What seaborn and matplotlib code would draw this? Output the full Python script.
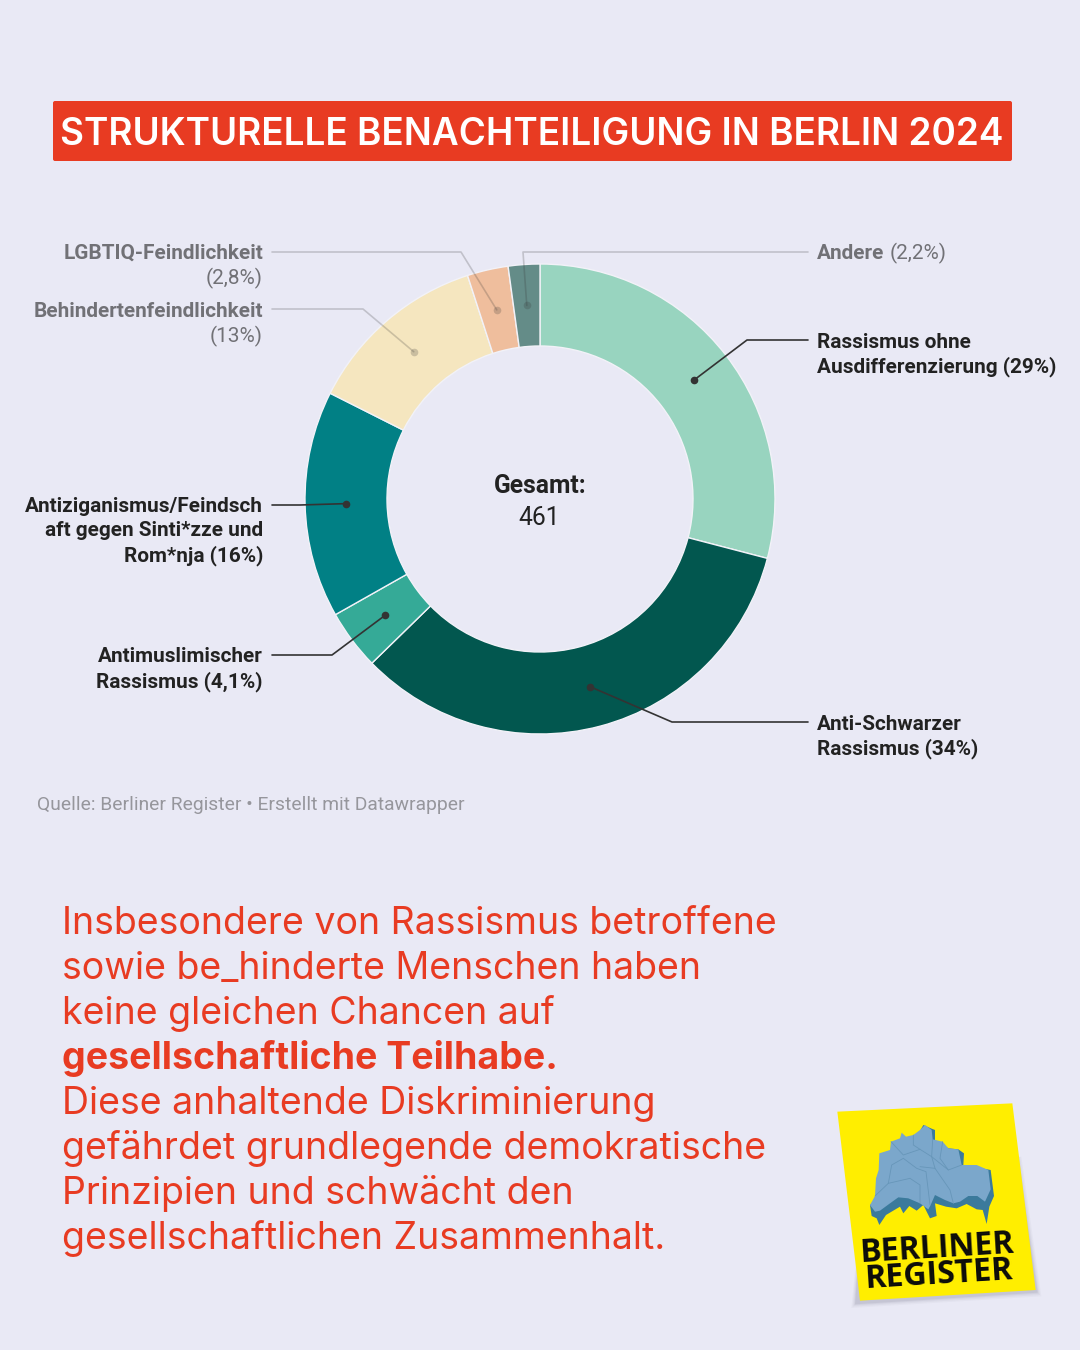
import numpy as np
import matplotlib.pyplot as plt
from matplotlib.patches import Polygon, FancyBboxPatch
import seaborn as sns

# counts per category, clockwise from 12 o'clock (percentages in labels sum to 461)
categories = ['Rassismus ohne Ausdifferenzierung', 'Anti-Schwarzer Rassismus', 'Antimuslimischer Rassismus',
              'Antiziganismus', 'Behindertenfeindlichkeit', 'LGBTIQ-Feindlichkeit', 'Andere']
counts = [134, 155, 19, 72, 58, 13, 10]
colors = ['#98D4BF', '#02574F', '#35AA97', '#018085', '#F5E6BF', '#EFBE9D', '#648C88']
title = 'STRUKTURELLE BENACHTEILIGUNG IN BERLIN 2024'
source = 'Quelle: Berliner Register • Erstellt mit Datawrapper'
body_lines = ['Insbesondere von Rassismus betroffene', 'sowie be_hinderte Menschen haben',
              'keine gleichen Chancen auf', 'gesellschaftliche Teilhabe.',
              'Diese anhaltende Diskriminierung', 'gefährdet grundlegende demokratische',
              'Prinzipien und schwächt den', 'gesellschaftlichen Zusammenhalt.']

BG = '#E9E9F5'
RED = '#E83B22'
DARK = '#222222'
GREY = '#717176'
LABEL_FONT = 'Roboto'
BODY_FONT = 'Inter'

sns.set_theme(style='white')
plt.rcParams['font.family'] = [LABEL_FONT, 'DejaVu Sans']

fig = plt.figure(figsize=(10.8, 13.5), dpi=100, facecolor=BG)
ax = fig.add_axes([0, 0, 1, 1])
ax.set_xlim(0, 1080)
ax.set_ylim(0, 1350)
ax.axis('off')


def Y(py):
    # pixels from the top -> data y
    return 1350 - py


# title box
ax.add_patch(FancyBboxPatch((55, Y(159)), 955, 56, boxstyle='round,pad=2,rounding_size=2',
                            fc=RED, ec='none', zorder=1))
ax.text(532, Y(145), title, color='white', fontsize=26.55, fontweight='semibold',
        family=BODY_FONT, ha='center', va='baseline')

# donut
cx, cy, r_out, r_in = 540, Y(499), 235, 153
wedges, _ = ax.pie(counts, colors=sns.color_palette(colors), startangle=90, counterclock=False,
                   center=(cx, cy), radius=r_out, frame=False,
                   wedgeprops=dict(width=r_out - r_in, edgecolor='#F2F2F8', linewidth=1.0))
ax.set_xlim(0, 1080)
ax.set_ylim(0, 1350)
ax.set_aspect('auto')

ax.text(540, Y(493), 'Gesamt:', fontsize=17.7, fontweight='bold', color=DARK, ha='center', va='baseline')
ax.text(539, Y(525), '461', fontsize=17.7, color=DARK, ha='center', va='baseline')

# leaders: wedge index, elbow (px), label end (px), colour, alpha
leaders = [
    (0, (747, 340), (808, 340), '#333333', 1.0),
    (1, (672, 722), (808, 722), '#333333', 1.0),
    (2, (332, 655), (272, 655), '#333333', 1.0),
    (3, (300, 505), (272, 505), '#333333', 1.0),
    (4, (363, 309), (272, 309), '#333333', 0.22),
    (5, (461, 252), (272, 252), '#333333', 0.22),
    (6, (523, 252), (808, 252), '#333333', 0.22),
]
r_mid = (r_out + r_in) / 2
for idx, elbow, end, col, alpha in leaders:
    ang = np.deg2rad((wedges[idx].theta1 + wedges[idx].theta2) / 2)
    dot_x, dot_y = cx + r_mid * np.cos(ang), cy + r_mid * np.sin(ang)
    ax.plot([dot_x, elbow[0], end[0]], [dot_y, Y(elbow[1]), Y(end[1])], color=col, alpha=alpha, lw=1.2, zorder=5)
    ax.plot([dot_x], [dot_y], 'o', color=col, alpha=alpha, ms=5.5, mew=0, zorder=5)

# labels: x, baseline y, text, weight, colour, align
label_size = 14.95
label_rows = [
    (817, 348, 'Rassismus ohne', 'bold', DARK, 'left'),
    (817, 372, 'Ausdifferenzierung (29%)', 'bold', DARK, 'left'),
    (817, 730, 'Anti-Schwarzer', 'bold', DARK, 'left'),
    (817, 754, 'Rassismus (34%)', 'bold', DARK, 'left'),
    (263, 662, 'Antimuslimischer', 'bold', DARK, 'right'),
    (263, 687, 'Rassismus (4,1%)', 'bold', DARK, 'right'),
    (263, 512, 'Antiziganismus/Feindsch', 'bold', DARK, 'right'),
    (263, 536, 'aft gegen Sinti*zze und', 'bold', DARK, 'right'),
    (263, 561, 'Rom*nja (16%)', 'bold', DARK, 'right'),
    (263, 259, 'LGBTIQ-Feindlichkeit', 'bold', GREY, 'right'),
    (263, 284, '(2,8%)', 'normal', GREY, 'right'),
    (263, 317, 'Behindertenfeindlichkeit', 'bold', GREY, 'right'),
    (263, 342, '(13%)', 'normal', GREY, 'right'),
    (817, 259, 'Andere', 'bold', GREY, 'left'),
    (890, 259, '(2,2%)', 'normal', GREY, 'left'),
]
for x, y, txt, weight, col, align in label_rows:
    ax.text(x, Y(y), txt, fontsize=label_size, fontweight=weight, color=col, ha=align, va='baseline')

ax.text(37, Y(810), source, fontsize=13.9, color='#96969C', ha='left', va='baseline')

# body copy
for i, line in enumerate(body_lines):
    bold = line.startswith('gesellschaftliche T')
    ax.text(62, Y(934 + 45 * i), line, fontsize=27.0, color=RED, family=BODY_FONT,
            fontweight='bold' if bold else 'normal', ha='left', va='baseline')


# logo, traced in zoom-crop pixels
def logo(pts):
    pts = np.array(pts, float)
    return np.column_stack([820 + pts[:, 0] / 3, 1350 - (1090 + pts[:, 1] / 3)])


note = [(52, 65), (577, 40), (647, 600), (120, 632)]
for grow, a in [(14, 0.04), (10, 0.05), (6, 0.07), (3, 0.09)]:
    shadow = [(130, 300), (590 + grow, 200), (650 + grow, 605 + grow), (108 - grow, 640 + grow)]
    ax.add_patch(Polygon(logo(shadow), fc='#55556A', alpha=a, ec='none', zorder=6))
ax.add_patch(Polygon(logo(note), fc='#FFEE00', ec='none', zorder=7))

map_side = [(150, 345), (155, 378), (170, 385), (178, 405), (198, 375), (240, 350), (250, 370), (268, 348),
            (290, 362), (310, 345), (330, 385), (350, 378), (345, 340), (378, 350), (410, 355), (440, 342),
            (470, 358), (488, 360), (500, 402), (508, 350), (522, 318), (512, 240), (430, 225), (432, 190),
            (415, 178), (385, 175), (345, 150), (345, 120), (335, 116), (310, 105), (200, 300)]
ax.add_patch(Polygon(logo(map_side), fc='#3B7A9C', ec='none', zorder=8))
map_top = [(150, 345), (165, 318), (168, 265), (176, 240), (178, 190), (210, 180), (213, 155), (240, 145),
           (245, 128), (258, 140), (280, 135), (300, 120), (315, 105), (335, 120), (338, 148), (368, 155),
           (385, 175), (415, 178), (425, 225), (470, 225), (505, 240), (512, 298), (495, 335), (472, 318),
           (445, 318), (420, 335), (400, 340), (375, 330), (345, 315), (332, 345), (325, 358), (300, 340),
           (265, 325), (235, 322), (210, 340), (180, 362), (165, 365)]
ax.add_patch(Polygon(logo(map_top), fc='#7BA7CB', ec='none', zorder=9))
districts = [
    [(165, 318), (205, 280), (270, 265), (300, 285), (300, 340)],
    [(205, 280), (215, 225), (250, 205), (290, 235), (318, 245), (330, 345)],
    [(213, 155), (250, 195), (300, 178), (335, 200), (345, 235), (390, 300), (400, 340)],
    [(280, 135), (280, 165), (300, 178)],
    [(338, 148), (335, 200), (385, 240), (425, 225)],
    [(368, 155), (360, 205), (385, 240)],
    [(345, 235), (300, 230)],
]
for seg in districts:
    xy = logo(seg)
    ax.plot(xy[:, 0], xy[:, 1], color='#6796B9', lw=0.6, zorder=10)

for (x, y, txt) in [(937, 1249, 'BERLINER'), (939, 1275, 'REGISTER')]:
    ax.text(x, Y(y), txt, fontsize=23, fontweight='bold', family='Open Sans', color='#0B0B0B',
            ha='center', va='center', rotation=3.5, rotation_mode='anchor', zorder=11)

fig.savefig('out.png', dpi=100, facecolor=BG)
